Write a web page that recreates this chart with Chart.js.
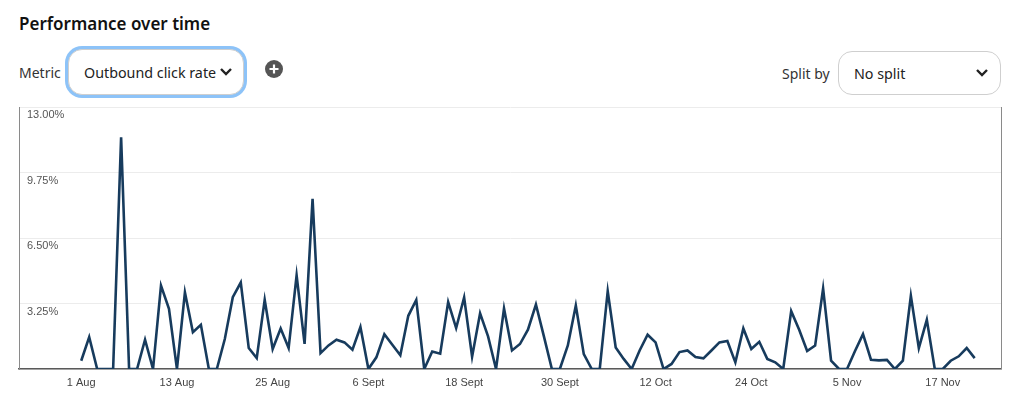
<!DOCTYPE html>
<html>
<head>
<meta charset="utf-8">
<script src="https://cdn.jsdelivr.net/npm/chart.js@4"></script>
<style>
    body { margin: 0; width: 1024px; height: 406px; background: #fff; font-family: "Noto Sans", "Open Sans", sans-serif; color: #222; position: relative; overflow: hidden; }
    .title { position: absolute; left: 19px; top: 12px; font-size: 17px; font-weight: 600; color: #111; }
    .lbl { position: absolute; font-size: 14px; color: #333; }
    .select { position: absolute; box-sizing: border-box; border: 1px solid #cfcfcf; border-radius: 14px; background: #fff; font-size: 14.3px; color: #222; }
    .select span { position: absolute; left: 15px; top: 50%; transform: translateY(-50%); white-space: nowrap; }
    .select svg { position: absolute; top: 50%; transform: translateY(-50%); }
    .focus { box-shadow: 0 0 0 3px #8dc3f8; }
    .plus { position: absolute; left: 265px; top: 60px; }
    .chartBox { position: absolute; left: 0; top: 100px; width: 1024px; height: 306px; }
</style>
</head>
<body>
<div class="title">Performance over time</div>
<div class="lbl" style="left:19px; top:63px;">Metric</div>
<div class="select focus" style="left:68px; top:49px; width:176px; height:46px;">
    <span>Outbound click rate</span>
    <svg style="right:10px" width="14" height="10" viewBox="0 0 14 10"><path d="M2 2 L7 7 L12 2" fill="none" stroke="#222" stroke-width="2.4"/></svg>
</div>
<svg class="plus" width="18" height="18" viewBox="0 0 18 18"><circle cx="9" cy="9" r="9" fill="#555"/><path d="M9 4.5 V13.5 M4.5 9 H13.5" stroke="#fff" stroke-width="2.2"/></svg>
<div class="lbl" style="left:782px; top:64px;">Split by</div>
<div class="select" style="left:838px; top:51px; width:163px; height:44px;">
    <span>No split</span>
    <svg style="right:11px" width="14" height="10" viewBox="0 0 14 10"><path d="M2 2 L7 7 L12 2" fill="none" stroke="#222" stroke-width="2.4"/></svg>
</div>
<div class="chartBox"><canvas id="perfChart"></canvas></div>

<script>
// Outbound click rate (%) for each day, 1 Aug - 21 Nov
const clickRate = [
    0.41, 1.58, 0, 0, 0, 11.5, 0, 0, 1.45, 0,
    4.14, 2.99, 0, 3.8, 1.82, 2.19, 0, 0, 1.49, 3.56,
    4.29, 1.04, 0.54, 3.43, 0.99, 2.01, 1.04, 4.65, 1.25, 8.45,
    0.79, 1.17, 1.45, 1.32, 0.96, 2.08, 0, 0.58, 1.72, 1.2,
    0.68, 2.64, 3.43, 0, 0.87, 0.76, 3.32, 2.03, 3.55, 0.61,
    2.76, 1.62, 0, 3.0, 0.92, 1.24, 1.95, 3.2, 1.62, 0,
    0, 1.17, 3.15, 0.74, 0, 0, 3.86, 1.07, 0.5, 0,
    0.92, 1.7, 1.32, 0, 0.25, 0.84, 0.92, 0.59, 0.53, 0.92,
    1.32, 1.39, 0.33, 2.01, 0.99, 1.35, 0.5, 0.33, 0, 2.87,
    1.95, 0.89, 1.16, 3.99, 0.41, 0, 0, 0.89, 1.73, 0.46,
    0.43, 0.45, 0, 0.41, 3.63, 1.04, 2.44, 0, 0, 0.41,
    0.63, 1.04, 0.54
];
// days since 1 Aug
const dayIndex = clickRate.map((v, i) => i);

const xTickDays = [0, 12, 24, 36, 48, 60, 72, 84, 96, 108];
const xTickLabels = ['1 Aug', '13 Aug', '25 Aug', '6 Sept', '18 Sept', '30 Sept', '12 Oct', '24 Oct', '5 Nov', '17 Nov'];
const yTickValues = [0, 3.25, 6.5, 9.75, 13];

// right edge line of the plot
const frameRight = {
    id: 'frameRight',
    afterDraw(chart) {
        const { ctx, chartArea } = chart;
        ctx.save();
        ctx.strokeStyle = '#8a8a8a';
        ctx.lineWidth = 1;
        ctx.beginPath();
        ctx.moveTo(chartArea.right + 0.5, chartArea.top);
        ctx.lineTo(chartArea.right + 0.5, chartArea.bottom);
        ctx.stroke();
        ctx.restore();
    }
};

function noPad(axis) {
    axis.paddingLeft = 0;
    axis.paddingRight = 0;
    axis.paddingTop = 0;
    axis.paddingBottom = 0;
}

const ctx = document.getElementById('perfChart').getContext('2d');
new Chart(ctx, {
    type: 'line',
    data: {
        datasets: [{
            label: 'Outbound click rate',
            data: dayIndex.map((d, i) => ({ x: d, y: clickRate[i] })),
            borderColor: '#173b5d',
            borderWidth: 2.6,
            pointRadius: 0,
            tension: 0,
            fill: false
        }]
    },
    options: {
        responsive: true,
        maintainAspectRatio: false,
        animation: false,
        layout: { padding: { left: 19, right: 23, top: 7, bottom: 17 } },
        plugins: { legend: { display: false }, tooltip: { enabled: false } },
        scales: {
            x: {
                type: 'linear',
                min: -7.8,
                max: 115.3,
                afterBuildTicks: axis => { axis.ticks = xTickDays.map(v => ({ value: v })); },
                afterFit: axis => { axis.height = 20; noPad(axis); },
                grid: { display: false, drawTicks: false },
                border: { display: true, color: '#5a5a5a', width: 1.5 },
                ticks: {
                    padding: 7,
                    maxRotation: 0,
                    autoSkip: false,
                    color: '#444',
                    font: { family: 'Liberation Sans', size: 11 },
                    callback: value => xTickLabels[xTickDays.indexOf(value)]
                }
            },
            y: {
                min: 0,
                max: 13,
                afterBuildTicks: axis => { axis.ticks = yTickValues.map(v => ({ value: v })); },
                afterFit: axis => { axis.width = 0; noPad(axis); },
                grid: { color: '#ececec', lineWidth: 1, drawTicks: false },
                border: { display: true, color: '#8a8a8a', width: 1 },
                ticks: {
                    mirror: true,
                    padding: 8,
                    labelOffset: 8,
                    color: '#555',
                    font: { family: 'Liberation Sans', size: 11 },
                    callback: value => value === 0 ? '' : value.toFixed(2) + '%'
                }
            }
        }
    },
    plugins: [frameRight]
});
</script>
</body>
</html>
